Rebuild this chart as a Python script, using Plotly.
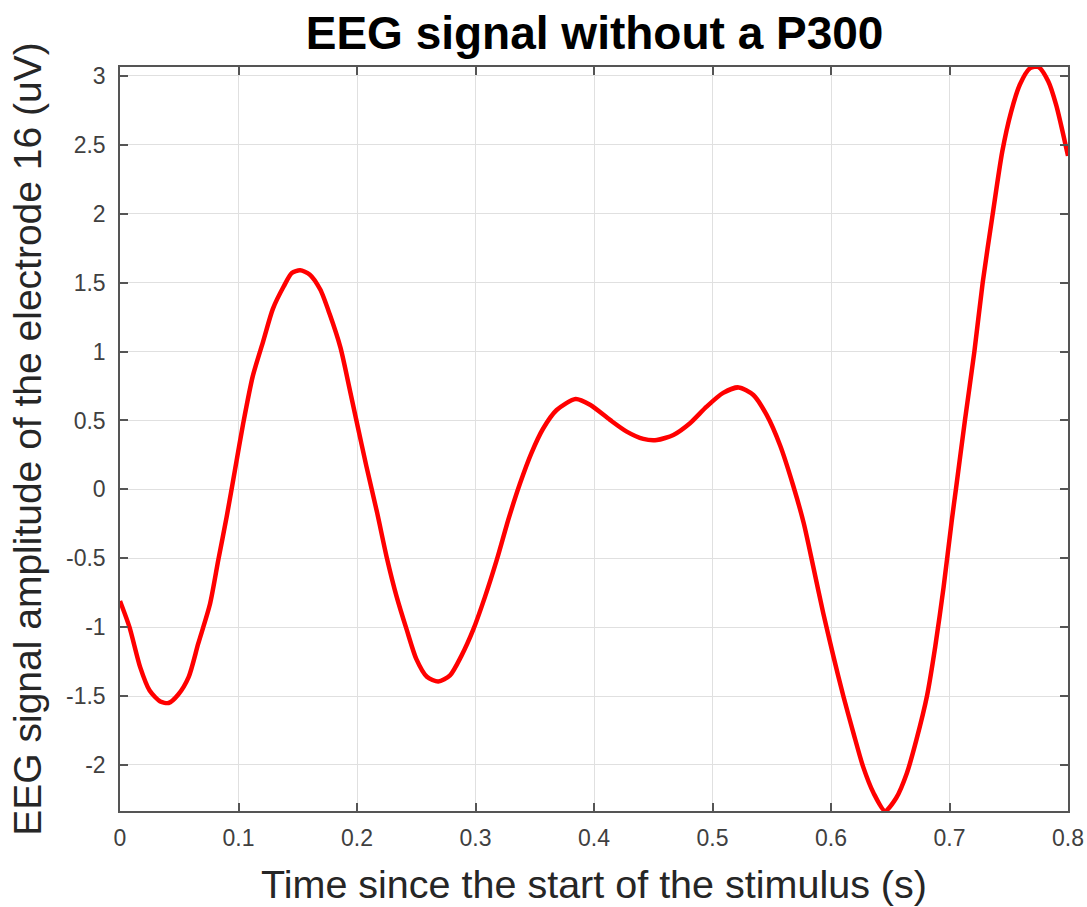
import plotly.graph_objects as go

# Time (s) and amplitude (uV)
time_s = [0.000, 0.008, 0.017, 0.025, 0.034, 0.041, 0.049, 0.058, 0.066, 0.076,
          0.083, 0.090, 0.097, 0.104, 0.112, 0.121, 0.129, 0.138, 0.145, 0.152,
          0.160, 0.169, 0.177, 0.186, 0.194, 0.200, 0.208, 0.217, 0.225, 0.2335,
          0.242, 0.250, 0.259, 0.2686, 0.2785, 0.288, 0.298, 0.308, 0.318, 0.3277,
          0.3376, 0.347, 0.357, 0.3685, 0.3845, 0.397, 0.4135, 0.4276, 0.4416, 0.453,
          0.467, 0.481, 0.495, 0.509, 0.522, 0.5345, 0.5457, 0.557, 0.568, 0.577,
          0.585, 0.5935, 0.602, 0.6104, 0.619, 0.627, 0.636, 0.6456, 0.655, 0.664,
          0.672, 0.681, 0.688, 0.695, 0.702, 0.7054, 0.713, 0.721, 0.728, 0.7365,
          0.7445, 0.752, 0.7595, 0.768, 0.775, 0.7834, 0.790, 0.800]
amplitude_uv = [-0.81, -1.00, -1.29, -1.46, -1.54, -1.55, -1.49, -1.36, -1.12, -0.83,
                -0.51, -0.20, 0.14, 0.48, 0.82, 1.08, 1.31, 1.47, 1.57, 1.59,
                1.56, 1.45, 1.27, 1.03, 0.72, 0.48, 0.165, -0.17, -0.49, -0.78,
                -1.02, -1.23, -1.36, -1.395, -1.35, -1.21, -1.02, -0.78, -0.51, -0.22,
                0.044, 0.26, 0.44, 0.576, 0.656, 0.612, 0.504, 0.419, 0.366, 0.358,
                0.395, 0.48, 0.60, 0.70, 0.74, 0.685, 0.54, 0.32, 0.03, -0.246,
                -0.56, -0.90, -1.21, -1.50, -1.77, -2.01, -2.205, -2.334, -2.24, -2.06,
                -1.82, -1.50, -1.14, -0.71, -0.22, 0.0, 0.5, 1.0, 1.5, 2.0,
                2.45, 2.74, 2.94, 3.056, 3.065, 2.96, 2.79, 2.42]

x_tick_vals = [0, 0.1, 0.2, 0.3, 0.4, 0.5, 0.6, 0.7, 0.8]
x_tick_text = ["0", "0.1", "0.2", "0.3", "0.4", "0.5", "0.6", "0.7", "0.8"]
y_tick_vals = [-2, -1.5, -1, -0.5, 0, 0.5, 1, 1.5, 2, 2.5, 3]
y_tick_text = ["-2", "-1.5", "-1", "-0.5", "0", "0.5", "1", "1.5", "2", "2.5", "3"]

title_text = "EEG signal without a P300"
x_label = "Time since the start of the stimulus (s)"
y_label = "EEG signal amplitude of the electrode 16 (uV)"

FONT = "Liberation Sans, Arial, sans-serif"

fig = go.Figure()
fig.add_trace(go.Scatter(x=time_s, y=amplitude_uv, mode="lines",
                         line=dict(color="#ff0000", width=4.5, shape="spline", smoothing=0.7),
                         showlegend=False))

axis_common = dict(
    showline=True, linecolor="#555555", linewidth=1.5, mirror="ticks",
    ticks="inside", ticklen=8, tickwidth=1.5, tickcolor="#555555",
    showgrid=True, gridcolor="#e0e0e0", gridwidth=1.2,
    zeroline=False, automargin=False,
    tickfont=dict(family=FONT, size=23, color="#404040"),
)

fig.update_layout(
    width=1087, height=907, autosize=False,
    paper_bgcolor="white", plot_bgcolor="white",
    margin=dict(l=120, r=19, t=67, b=96, autoexpand=False),
    title=dict(text="<b>" + title_text + "</b>", x=0.547, xanchor="center",
               y=0.946, yanchor="bottom",
               font=dict(family=FONT, size=46, color="black")),
    xaxis=dict(range=[0, 0.8], tickvals=x_tick_vals, ticktext=x_tick_text,
               ticklabelstandoff=6,
               title=dict(text=x_label, standoff=20,
                          font=dict(family=FONT, size=39.5, color="#262626")),
               **axis_common),
    yaxis=dict(range=[min(amplitude_uv), max(amplitude_uv)],
               tickvals=y_tick_vals, ticktext=y_tick_text,
               ticklabelstandoff=8,
               title=dict(text=y_label, standoff=12,
                          font=dict(family=FONT, size=39, color="#262626")),
               **axis_common),
)

fig.write_html("out.html",
               config={"displayModeBar": False, "responsive": False},
               post_script="document.body.style.margin='0px';"
                           "document.documentElement.style.overflow='hidden';")
